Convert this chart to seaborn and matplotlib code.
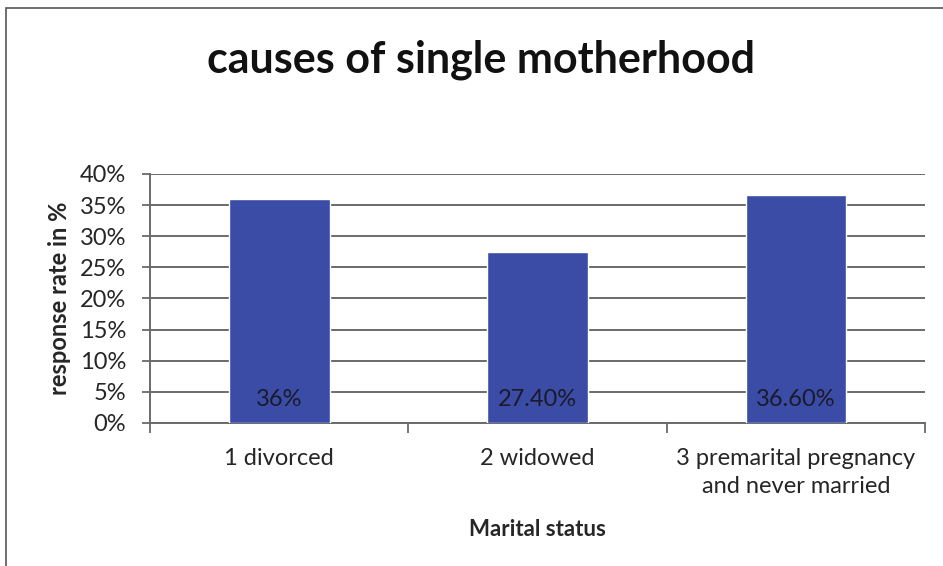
import pandas as pd
import seaborn as sns
import matplotlib.pyplot as plt
from matplotlib.patches import Rectangle
from matplotlib.ticker import PercentFormatter

# Chart data
categories = ["1 divorced", "2 widowed", "3 premarital pregnancy\nand never married"]
rates = [0.36, 0.274, 0.366]
rate_labels = ["36%", "27.40%", "36.60%"]

df = pd.DataFrame({"status": categories, "rate": rates})

sns.set_theme(style="white")
plt.rcParams['font.family'] = ['Lato', 'DejaVu Sans']

fig = plt.figure(figsize=(9.43, 5.66), dpi=100)
ax = fig.add_axes([0.159, 0.2527, 0.822, 0.4399])

sns.barplot(data=df, x="status", y="rate", color="#3A4CA5", saturation=1,
            width=0.39, ax=ax, zorder=3)

# value labels at the foot of each bar
for i, lab in enumerate(rate_labels):
    ax.annotate(lab, xy=(i, 0), xytext=(0, 9), textcoords="offset points",
                ha="center", va="bottom", fontsize=17, color="#1a1a2a", zorder=4)

ax.set_ylim(0, 0.40)
ax.set_yticks([i * 0.05 for i in range(9)])
ax.yaxis.set_major_formatter(PercentFormatter(1.0, decimals=0))
ax.set_xlim(-0.5, 2.5)
ax.grid(axis="y", color="#6a6a6a", linewidth=1.4, zorder=0)

# category boundaries as x ticks, labels centred in between
ax.set_xticks([-0.5, 0.5, 1.5, 2.5])
ax.set_xticklabels([])
ax.set_xticks([0, 1, 2], minor=True)
ax.set_xticklabels(categories, minor=True, fontsize=17, linespacing=1.42)
ax.tick_params(axis="x", which="major", direction="out", length=7, width=1.3, color="#6a6a6a", bottom=True)
ax.tick_params(axis="x", which="minor", length=0, pad=18)
ax.tick_params(axis="y", direction="out", length=6, width=1.3, color="#6a6a6a", left=True, labelsize=17, pad=11)

for s in ["top", "right"]:
    ax.spines[s].set_visible(False)
for s in ["left", "bottom"]:
    ax.spines[s].set_color("#6a6a6a")
    ax.spines[s].set_linewidth(1.4)

ax.set_xlabel("Marital status", fontsize=16, fontweight="bold", labelpad=16)
ax.set_ylabel("response rate in %", fontsize=17, fontweight="bold", labelpad=6)

fig.text(0.51, 0.894, "causes of single motherhood", ha="center", va="center",
         fontsize=31, fontweight="bold", color="#111111")

# outer chart frame
fig.patches.append(Rectangle((6 / 943, -0.05), 1.2, 1.05 - 8 / 566, transform=fig.transFigure,
                             fill=False, edgecolor="#555555", linewidth=1.2))

plt.savefig("out.png", dpi=100)
